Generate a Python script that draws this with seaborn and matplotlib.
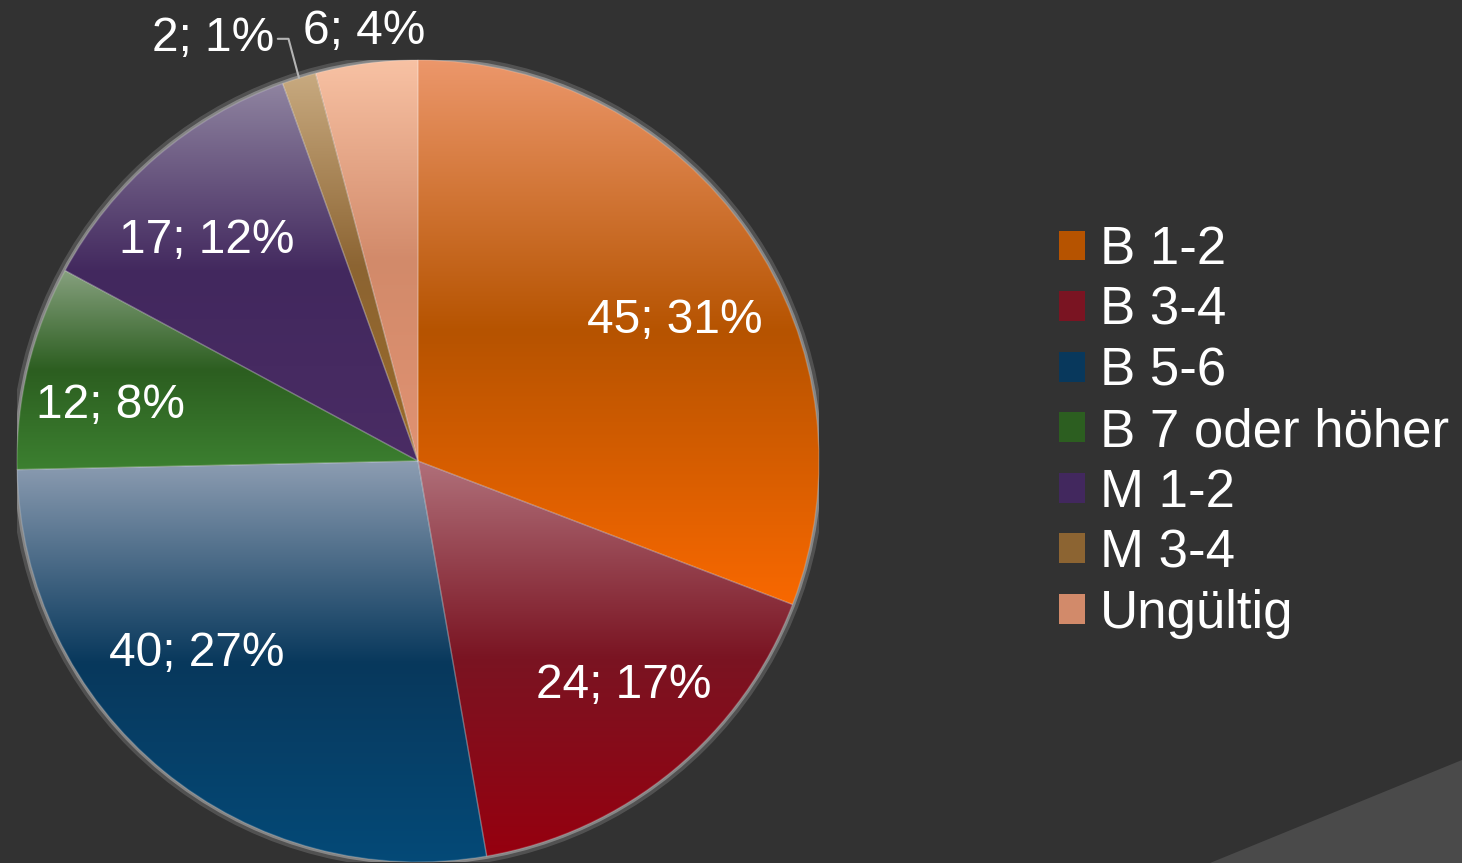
import numpy as np
import matplotlib
matplotlib.use('Agg')
import matplotlib.pyplot as plt
import seaborn as sns
from matplotlib.colors import LinearSegmentedColormap
from matplotlib.patches import Circle, Polygon

# Daten
kategorien = ['B 1-2', 'B 3-4', 'B 5-6', 'B 7 oder höher', 'M 1-2', 'M 3-4', 'Ungültig']
anzahl = [45, 24, 40, 12, 17, 2, 6]
prozent = [31, 17, 27, 8, 12, 1, 4]

# Verlaufsfarben je Segment (oben, Mitte, unten)
farben = [
    ('#EC976B', '#B65300', '#F86800'),
    ('#B0707A', '#7A1422', '#96000F'),
    ('#8D9DB2', '#08385C', '#044A78'),
    ('#86A07E', '#2C5E20', '#3C8030'),
    ('#8F84A0', '#42285E', '#4A2C64'),
    ('#C8AA80', '#8C6432', '#9A6A28'),
    ('#F8C2A4', '#D28A6A', '#E09272'),
]

# Beschriftungen: Radius (Anteil) und Winkelkorrektur (Grad)
label_radius = [0.73, 0.76, 0.73, 0.78, 0.76, 1.17, 1.08]
label_winkel = [-5.8, 3.1, -9.5, 3.4, 3.1, 8.6, -0.3]

sns.set_theme(style='dark')
plt.rcParams['font.family'] = ['Liberation Sans', 'DejaVu Sans']
bg = '#323232'

fig = plt.figure(figsize=(14.62, 8.63), dpi=100, facecolor=bg)

# Dekoration rechts unten
deko = Polygon([(1210 / 1462, 0), (1462 / 1462, 103 / 863), (1, 0)],
               closed=True, transform=fig.transFigure, facecolor='#4A4A4A',
               edgecolor='none', zorder=0)
fig.patches.append(deko)

R = 401
cx, cy = 418, 461
ax = fig.add_axes([(cx - R) / 1462, (863 - cy - R) / 863, 2 * R / 1462, 2 * R / 863])
ax.set_facecolor('none')
ax.set_xlim(-1, 1)
ax.set_ylim(-1, 1)
ax.set_aspect('equal')
ax.axis('off')

# Halo um den Kreis
ax.add_patch(Circle((0, 0), 1.0, facecolor='none', edgecolor='#B0B0B0',
                    linewidth=9, alpha=0.25, zorder=1))
ax.add_patch(Circle((0, 0), 1.0, facecolor='none', edgecolor='#A8A8A8',
                    linewidth=4, alpha=0.6, zorder=1))

wedges, _ = ax.pie(anzahl, startangle=90, counterclock=False, radius=1,
                   colors=[f[1] for f in farben],
                   wedgeprops=dict(edgecolor=(1, 1, 1, 0.18), linewidth=1, zorder=2))

for w, f in zip(wedges, farben):
    verts = w.get_path().vertices
    xmin, ymin = verts.min(axis=0)
    xmax, ymax = verts.max(axis=0)
    cmap = LinearSegmentedColormap.from_list('g', [(0, f[2]), (0.5, f[1]), (1, f[0])])
    grad = np.linspace(0, 1, 256).reshape(-1, 1)
    im = ax.imshow(grad, cmap=cmap, extent=[xmin, xmax, ymin, ymax], origin='lower',
                   aspect='auto', zorder=3, interpolation='bicubic')
    im.set_clip_path(w)

# Segmentgrenzen erneut oben zeichnen
for w in wedges:
    w.set_zorder(4)
    w.set_facecolor('none')

ax.set_xlim(-1, 1)
ax.set_ylim(-1, 1)

for i, w in enumerate(wedges):
    mitte = np.deg2rad((w.theta1 + w.theta2) / 2 + label_winkel[i])
    x = label_radius[i] * np.cos(mitte)
    y = label_radius[i] * np.sin(mitte)
    txt = f'{anzahl[i]}; {prozent[i]}%'
    if kategorien[i] == 'M 3-4':
        m = np.deg2rad((w.theta1 + w.theta2) / 2)
        ax.annotate(txt, xy=(np.cos(m), np.sin(m)), xytext=(x, y),
                    ha='center', va='center', fontsize=34.5, color='white',
                    annotation_clip=False, zorder=6,
                    arrowprops=dict(arrowstyle='-', color='#B4B4B4', lw=1.5,
                                    connectionstyle='angle,angleA=0,angleB=105,rad=0',
                                    shrinkA=0, shrinkB=0))
    else:
        ax.text(x, y, txt, ha='center', va='center', fontsize=34.5,
                color='white', zorder=6, clip_on=False)

leg = fig.legend(wedges, kategorien, loc='center left',
                 bbox_to_anchor=(1059 / 1462, 1 - 432 / 863),
                 bbox_transform=fig.transFigure, frameon=False,
                 fontsize=38, handlelength=0.49, handleheight=0.49,
                 handletextpad=0.28, labelspacing=0.2, borderpad=0,
                 borderaxespad=0)
for t in leg.get_texts():
    t.set_color('white')
for h, f in zip(leg.legend_handles, farben):
    h.set_facecolor(f[1])
    h.set_edgecolor('none')

fig.savefig('out.png', dpi=100, facecolor=bg)
